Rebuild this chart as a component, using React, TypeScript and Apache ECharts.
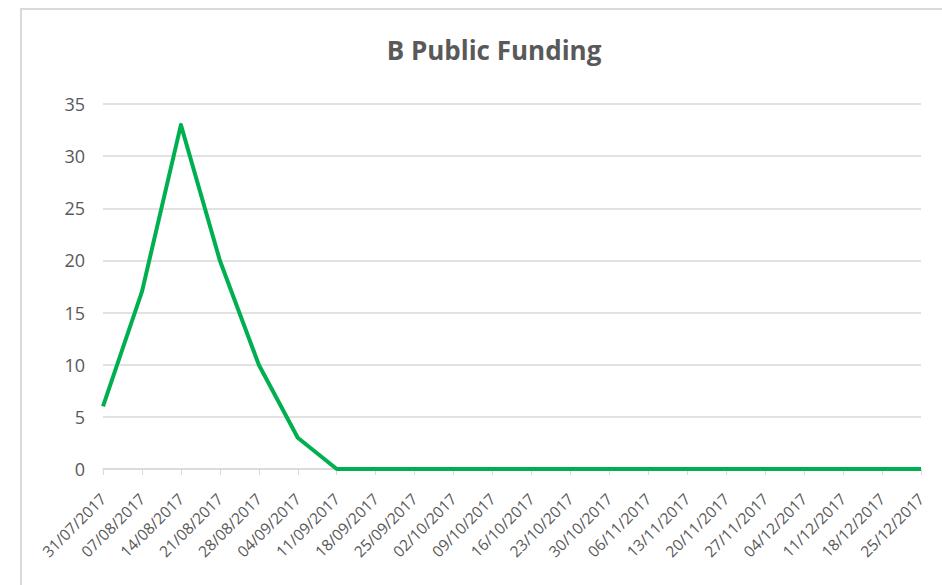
import React, { useEffect, useRef } from "react";
import * as echarts from "echarts";

const categories = [
  "31/07/2017", "07/08/2017", "14/08/2017", "21/08/2017", "28/08/2017", "04/09/2017",
  "11/09/2017", "18/09/2017", "25/09/2017", "02/10/2017", "09/10/2017", "16/10/2017",
  "23/10/2017", "30/10/2017", "06/11/2017", "13/11/2017", "20/11/2017", "27/11/2017",
  "04/12/2017", "11/12/2017", "18/12/2017", "25/12/2017",
];
const values = [6, 17, 33, 20, 10, 3, 0, 0, 0, 0, 0, 0, 0, 0, 0, 0, 0, 0, 0, 0, 0, 0];
const titleText = "B Public Funding";

export default function App() {
  const ref = useRef<HTMLDivElement>(null);
  useEffect(() => {
    if (!ref.current) return;
    const chart = echarts.init(ref.current, null, { renderer: "svg" });
    const font = "'Open Sans', 'Noto Sans', sans-serif";
    chart.setOption({
      animation: false,
      backgroundColor: "#ffffff",
      textStyle: { fontFamily: font },
      title: {
        text: titleText,
        top: 32,
        left: 489,
        textAlign: "center",
        textStyle: { fontFamily: font, fontSize: 26, fontWeight: "bold", color: "#595959" },
      },
      graphic: [
        {
          type: "rect",
          shape: { x: 21, y: 9, width: 1000, height: 1000 },
          style: { fill: "none", stroke: "#d9d9d9", lineWidth: 2 },
          silent: true,
        },
      ],
      grid: { left: 103, right: 21, top: 104, bottom: 116, containLabel: false },
      xAxis: {
        type: "category",
        data: categories,
        boundaryGap: false,
        axisLine: { lineStyle: { color: "#d9d9d9", width: 1.5 } },
        axisTick: { show: true, length: 6, lineStyle: { color: "#d9d9d9" } },
        axisLabel: { rotate: 45, fontSize: 15.5, color: "#595959", margin: 27, interval: 0, fontFamily: font },
        splitLine: { show: false },
      },
      yAxis: {
        type: "value",
        min: 0,
        max: 35,
        interval: 5,
        axisLine: { show: false },
        axisTick: { show: false },
        axisLabel: { fontSize: 18, color: "#595959", margin: 18, fontFamily: font },
        splitLine: { lineStyle: { color: "#d9d9d9", width: 1.5 } },
      },
      series: [
        {
          type: "line",
          data: values,
          symbol: "none",
          lineStyle: { color: "#00B050", width: 4, join: "round" },
          itemStyle: { color: "#00B050" },
        },
      ],
    });
    return () => chart.dispose();
  }, []);
  return (
    <div
      ref={ref}
      style={{ position: "fixed", left: 0, top: 0, width: 942, height: 585, background: "#fff" }}
    />
  );
}
